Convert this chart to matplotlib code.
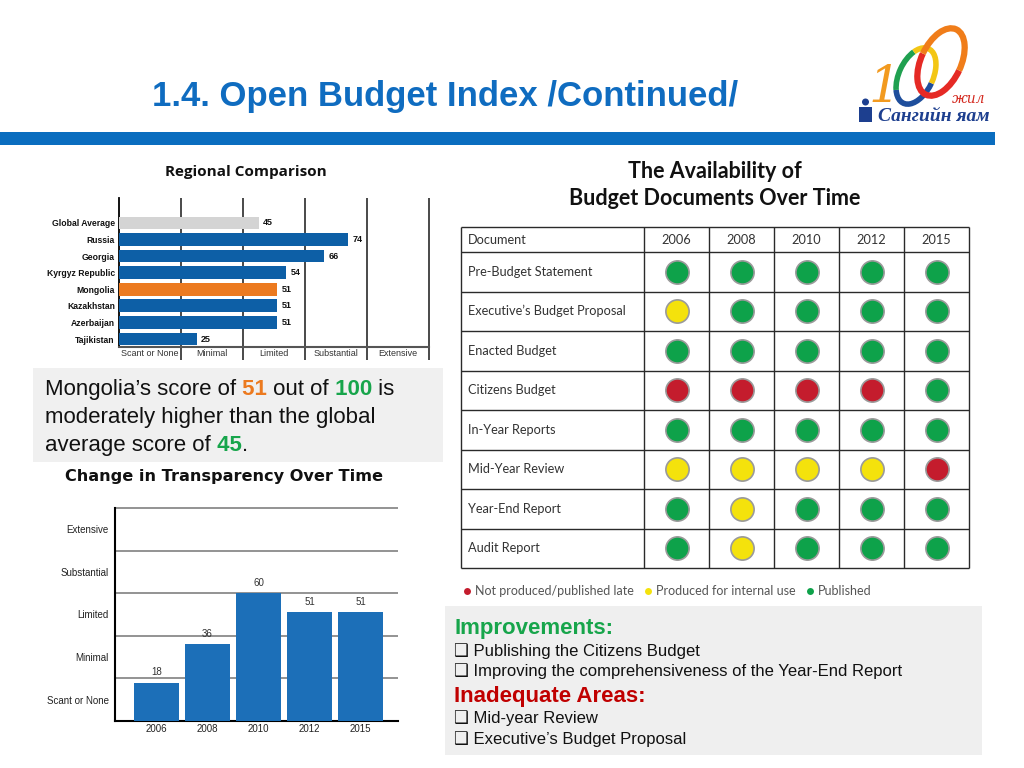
import numpy as np
import matplotlib
matplotlib.use("Agg")
import matplotlib.pyplot as plt
from matplotlib.patches import Rectangle, Arc, Circle

W, H = 1024, 768

# Regional Comparison
countries = ["Global Average", "Russia", "Georgia", "Kyrgyz Republic",
             "Mongolia", "Kazakhstan", "Azerbaijan", "Tajikistan"]
scores = [45, 74, 66, 54, 51, 51, 51, 25]
levels = ["Scant or None", "Minimal", "Limited", "Substantial", "Extensive"]

# Change in Transparency Over Time
years = ["2006", "2008", "2010", "2012", "2015"]
obi = [18, 36, 60, 51, 51]

# Availability of budget documents (G published, Y internal use, R not produced)
documents = ["Pre-Budget Statement", "Executive’s Budget Proposal", "Enacted Budget",
             "Citizens Budget", "In-Year Reports", "Mid-Year Review",
             "Year-End Report", "Audit Report"]
status = ["GGGGG", "YGGGG", "GGGGG", "RRRRG", "GGGGG", "YYYYR", "GYGGG", "GYGGG"]
legend_keys = ["R", "Y", "G"]
legend_labels = ["Not produced/published late", "Produced for internal use", "Published"]

improvements = ["Publishing the Citizens Budget",
                "Improving the comprehensiveness of the Year-End Report"]
inadequate = ["Mid-year Review", "Executive’s Budget Proposal"]

SANS = ["Liberation Sans", "DejaVu Sans"]
NARROW = ["Liberation Sans Narrow", "Liberation Sans"]
dot_col = {"G": "#0ea24a", "Y": "#f4e20c", "R": "#c41c2d"}
orange, green, red = "#ec7a1f", "#17a54b", "#c00000"

fig = plt.figure(figsize=(W / 100, H / 100), dpi=100, facecolor="white")


def px_axes(l, t, r, b):
    return fig.add_axes([l / W, 1 - b / H, (r - l) / W, (b - t) / H])


# overlay in pixel units for slide decoration
ov = px_axes(0, 0, W, H)
ov.set_xlim(0, W)
ov.set_ylim(H, 0)
ov.axis("off")

ov.text(152, 106, "1.4. Open Budget Index /Continued/", fontsize=25, fontweight="bold",
        color="#0f6cc0", family=SANS, va="baseline")
ov.add_patch(Rectangle((0, 132), 995, 13, color="#0a6dbf", lw=0))

# logo
ov.text(884, 102, "1", fontsize=36, color="#f29a1f", family="DejaVu Serif",
        style="italic", ha="center", va="baseline")
for t1, t2, c in [(0, 120, "#1e4e9c"), (120, 240, "#20a050"), (240, 360, "#f3c615")]:
    ov.add_patch(Arc((916, 76), 34, 60, angle=25, theta1=t1, theta2=t2, color=c, lw=4))
for t1, t2, c in [(0, 180, "#e52a25"), (180, 360, "#f07d1a")]:
    ov.add_patch(Arc((941, 62), 40, 72, angle=25, theta1=t1, theta2=t2, color=c, lw=4.5))
ov.text(952, 103, "жил", fontsize=10, color="#d42a20", style="italic",
        family="DejaVu Serif", va="baseline")
ov.text(878, 121, "Сангийн яам", fontsize=14, color="#1d3f8f", style="italic",
        fontweight="bold", family="Liberation Serif", va="baseline")
ov.add_patch(Rectangle((859, 107), 13, 15, color="#1d3f8f", lw=0))
ov.add_patch(Circle((865.5, 102), 3.5, color="#1d3f8f", lw=0))

# ---- Regional comparison ----
ov.text(246, 176, "Regional Comparison", fontsize=11, fontweight="bold",
        family="Open Sans", ha="center", va="baseline", color="#111")
ax1 = px_axes(119, 198, 429, 347)
ypos = np.arange(len(countries))
bar_cols = ["#d4d4d4" if c == "Global Average" else orange if c == "Mongolia" else "#0d5fa6"
            for c in countries]
ax1.barh(ypos, scores, height=0.77, color=bar_cols, zorder=3)
ax1.set_xlim(0, 100)
ax1.set_ylim(7.48, -1.5)
ax1.vlines([20, 40, 60, 80, 100], -1.5, 8.27, color="#3a3a3a", lw=1.3,
           clip_on=False, zorder=1)
ax1.set_yticks(ypos, countries, fontsize=6.2, family=NARROW, color="#111",
               fontweight="bold")
ax1.set_xticks([10, 30, 50, 70, 90], levels, fontsize=6.5, family=NARROW, color="#333")
ax1.tick_params(length=0)
ax1.tick_params(axis="y", pad=3)
ax1.tick_params(axis="x", pad=1.5)
for s in ["top", "right"]:
    ax1.spines[s].set_visible(False)
ax1.spines["left"].set_linewidth(1.3)
ax1.spines["bottom"].set_color("#555")
ax1.spines["bottom"].set_linewidth(1.5)
ax1.set_facecolor("none")
for i, v in enumerate(scores):
    ax1.text(v + 1.5, i, str(v), va="center", ha="left", fontsize=6.5,
             family=NARROW, color="#111", fontweight="bold")

# ---- Mongolia text box ----
ov.add_patch(Rectangle((33, 368), 410, 94, color="#f0f0f0", lw=0))
mong = str(scores[countries.index("Mongolia")])
glob = str(scores[countries.index("Global Average")])


def chain(parts, x, y, size):
    s, c, w = parts[0]
    t = ov.text(x, y, s, color=c, fontweight=w, fontsize=size, family=SANS, va="baseline")
    for s, c, w in parts[1:]:
        t = ov.annotate(s, xy=(1, 0), xycoords=t, va="bottom", ha="left", color=c,
                        fontweight=w, fontsize=size, family=SANS)


chain([("Mongolia’s score of", "#111", "normal"), (" " + mong, orange, "bold"),
       (" out of", "#111", "normal"), (" 100", green, "bold"), (" is", "#111", "normal")],
      45, 395, 16)
chain([("moderately higher than the global", "#111", "normal")], 45, 423, 16)
chain([("average score of", "#111", "normal"), (" " + glob, green, "bold"),
       (".", "#111", "normal")], 45, 451, 16)

# ---- Change over time ----
ov.text(224, 481, "Change in Transparency Over Time", fontsize=11.6, fontweight="bold",
        family="DejaVu Sans", ha="center", va="baseline", color="#111")
ax2 = px_axes(115, 508, 398, 721)
xpos = np.arange(len(years))
ax2.bar(xpos, obi, width=0.89, color="#1c6fb8", zorder=3)
ax2.set_xlim(-0.81, 4.73)
ax2.set_ylim(0, 100)
ax2.hlines([20, 40, 60, 80, 100], -0.81, 4.73, color="#808080", lw=1.2,
           clip_on=False, zorder=1)
ax2.set_yticks([10, 30, 50, 70, 90], levels, fontsize=7, family=SANS, color="#222")
ax2.set_xticks(xpos, years, fontsize=7, family=SANS, color="#222")
ax2.tick_params(length=0)
ax2.tick_params(axis="y", pad=4.5)
ax2.tick_params(axis="x", pad=2)
for s in ["top", "right"]:
    ax2.spines[s].set_visible(False)
ax2.spines["left"].set_linewidth(1.5)
ax2.spines["bottom"].set_linewidth(1.5)
ax2.set_facecolor("none")
for i, v in enumerate(obi):
    ax2.text(i, v + 2.5, str(v), ha="center", va="bottom", fontsize=7,
             family=SANS, color="#333")

# ---- Availability table ----
ov.text(715, 178, "The Availability of", fontsize=15.5, fontweight="bold",
        family="Lato", ha="center", va="baseline", color="#111")
ov.text(715, 205, "Budget Documents Over Time", fontsize=15.5, fontweight="bold",
        family="Lato", ha="center", va="baseline", color="#111")
tax = px_axes(461, 227, 969, 568)
col_edges = np.array([0, 183, 248, 313, 378, 443, 508])
row_edges = np.concatenate([[0], 25 + 39.5 * np.arange(len(documents) + 1)])
tax.set_xlim(0, col_edges[-1])
tax.set_ylim(row_edges[-1], 0)
tax.axis("off")
tax.hlines(row_edges, 0, col_edges[-1], color="#2a2a2a", lw=1, clip_on=False)
tax.vlines(col_edges, 0, row_edges[-1], color="#2a2a2a", lw=1, clip_on=False)
col_mid = (col_edges[:-1] + col_edges[1:]) / 2
row_mid = (row_edges[:-1] + row_edges[1:]) / 2
tax.text(7, row_mid[0], "Document", va="center", fontsize=9.2, family="Lato", color="#333")
for j, y in enumerate(years):
    tax.text(col_mid[j + 1], row_mid[0], y, va="center", ha="center", fontsize=9.2,
             family="Lato", color="#333")
for i, d in enumerate(documents):
    tax.text(7, row_mid[i + 1], d, va="center", fontsize=9.2, family="Lato", color="#333")
    for j, k in enumerate(status[i]):
        tax.scatter(col_mid[j + 1], row_mid[i + 1], s=280, color=dot_col[k],
                    edgecolor="#9a9a9a", linewidth=1.2, zorder=3)

# legend
lx = [467, 648, 810]
for x, k, lab in zip(lx, legend_keys, legend_labels):
    ov.plot(x, 591, "o", ms=5, color=dot_col[k], mec="none")
    ov.text(x + 8, 591, lab, va="center", fontsize=9, family="Lato", color="#555")

# ---- Improvements box ----
ov.add_patch(Rectangle((445, 606), 537, 149, color="#efefef", lw=0))
ov.text(454, 634, "Improvements:", fontsize=16, fontweight="bold", color=green,
        family=SANS, va="baseline")
for y, s in zip([656, 676], improvements):
    ov.text(454, y, "❑ " + s, fontsize=12, color="#111", family=SANS, va="baseline")
ov.text(454, 702, "Inadequate Areas:", fontsize=16, fontweight="bold", color=red,
        family=SANS, va="baseline")
for y, s in zip([723, 744], inadequate):
    ov.text(454, y, "❑ " + s, fontsize=12, color="#111", family=SANS, va="baseline")

fig.savefig("out.png", dpi=100)
